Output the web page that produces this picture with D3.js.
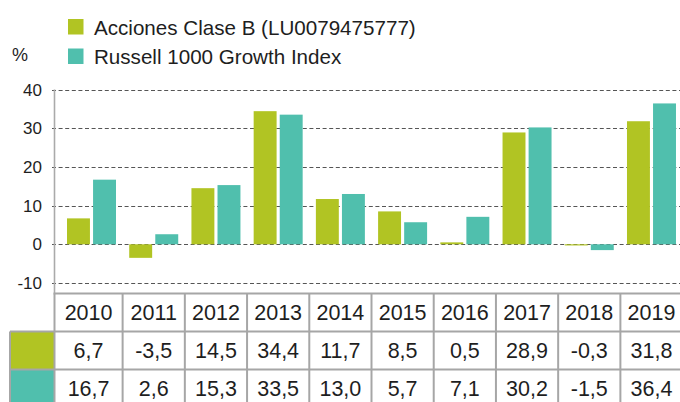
<!DOCTYPE html>
<html><head><meta charset="utf-8">
<script src="https://cdn.jsdelivr.net/npm/d3@7"></script>
<style>
html,body{margin:0;padding:0;background:#fff;}
svg{display:block;font-family:"Liberation Sans",Arial,Helvetica,sans-serif;}
</style></head>
<body><svg id="c" width="680" height="402"></svg>
<script>
const years = ["2010","2011","2012","2013","2014","2015","2016","2017","2018","2019"];
const seriesNames = ["Acciones Clase B (LU0079475777)","Russell 1000 Growth Index"];
const fundValues = [6.7,-3.5,14.5,34.4,11.7,8.5,0.5,28.9,-0.3,31.8];
const indexValues = [16.7,2.6,15.3,33.5,13.0,5.7,7.1,30.2,-1.5,36.4];
const yTicks = [-10,0,10,20,30,40];
const colors = ["#b1c423","#50bfad"];

const svg = d3.select("#c");
const loc = d3.formatLocale({decimal:",",thousands:".",grouping:[3],currency:["",""],minus:"-"});
const fmt1 = loc.format(".1f");
const fmt0 = loc.format("d");

const x = d3.scaleBand().domain(years).range([60.4, 682.6]).paddingInner(0).paddingOuter(0);
const sub = d3.scaleBand().domain([0,1]).range([6.6, 55.6]).paddingInner(0.12);
const y = d3.scaleLinear().domain([-10,40]).range([283, 89.5]);

const axisX = 54.5, gridLeft = 52, tableTop = 293.5, rowH = 38, swatchLeft = 10;

// gridlines
svg.append("g").selectAll("line").data(yTicks).join("line")
  .attr("x1", gridLeft).attr("x2", 680)
  .attr("y1", d => Math.round(y(d)) + 0.5).attr("y2", d => Math.round(y(d)) + 0.5)
  .attr("stroke", "#555").attr("stroke-width", 1).attr("stroke-dasharray", "4,2.6");

// y tick labels
svg.append("g").selectAll("text").data(yTicks).join("text")
  .attr("x", 42).attr("y", d => y(d)).attr("dy", "0.36em")
  .attr("text-anchor", "end").attr("font-size", 17).attr("fill", "#1e1e1e")
  .text(d => fmt0(d));

// y axis line
svg.append("line").attr("x1", axisX).attr("x2", axisX)
  .attr("y1", y(40)).attr("y2", tableTop)
  .attr("stroke", "#aaa").attr("stroke-width", 1.6);

// bars
const series = [fundValues, indexValues];
series.forEach((vals, si) => {
  svg.append("g").selectAll("rect").data(years).join("rect")
    .attr("x", (d) => x(d) + sub(si))
    .attr("width", sub.bandwidth())
    .attr("y", (d, i) => y(Math.max(0, vals[i])))
    .attr("height", (d, i) => Math.abs(y(vals[i]) - y(0)))
    .attr("fill", colors[si]);
});

// legend
const lg = svg.append("g");
seriesNames.forEach((name, i) => {
  lg.append("rect").attr("x", 68).attr("y", 19 + i * 29.5).attr("width", 15.5).attr("height", 15.5).attr("fill", colors[i]);
  lg.append("text").attr("x", 94).attr("y", 34.5 + i * 29.5).attr("font-size", 20.6).attr("fill", "#1e1e1e").text(name);
});
svg.append("text").attr("x", 12).attr("y", 61).attr("font-size", 18).attr("fill", "#1e1e1e").text("%");

// table
const tg = svg.append("g");
const border = "#a6a6a6", bw = 2;
const colLeft = (d, i) => i === 0 ? axisX : x(d);
const colRight = d => x(d) + x.bandwidth();
// swatch cells
colors.forEach((c, i) => {
  tg.append("rect").attr("x", swatchLeft).attr("y", tableTop + rowH * (i + 1))
    .attr("width", axisX - swatchLeft).attr("height", rowH).attr("fill", c);
});
// header text
tg.selectAll("text.h").data(years).join("text").attr("class", "h")
  .attr("x", (d, i) => (colLeft(d, i) + colRight(d)) / 2)
  .attr("y", tableTop + rowH * 0.5).attr("dy", "0.36em")
  .attr("text-anchor", "middle").attr("font-size", 21.5).attr("fill", "#1e1e1e").text(d => d);
series.forEach((vals, si) => {
  tg.selectAll("text.r" + si).data(years).join("text").attr("class", "r" + si)
    .attr("x", (d, i) => (colLeft(d, i) + colRight(d)) / 2)
    .attr("y", tableTop + rowH * (si + 1.5)).attr("dy", "0.36em")
    .attr("text-anchor", "middle").attr("font-size", 21.5).attr("fill", "#1e1e1e")
    .text((d, i) => fmt1(vals[i]));
});
// horizontal borders
[0, 1, 2, 3].forEach(r => {
  tg.append("line").attr("x1", r === 0 ? axisX - 1 : swatchLeft).attr("x2", 690)
    .attr("y1", tableTop + rowH * r).attr("y2", tableTop + rowH * r)
    .attr("stroke", border).attr("stroke-width", bw);
});
// vertical borders
tg.append("line").attr("x1", swatchLeft).attr("x2", swatchLeft)
  .attr("y1", tableTop + rowH).attr("y2", 410).attr("stroke", border).attr("stroke-width", bw);
tg.append("line").attr("x1", axisX).attr("x2", axisX)
  .attr("y1", tableTop).attr("y2", 410).attr("stroke", border).attr("stroke-width", bw);
tg.selectAll("line.v").data(years.slice(1)).join("line").attr("class", "v")
  .attr("x1", d => x(d)).attr("x2", d => x(d))
  .attr("y1", tableTop).attr("y2", 410).attr("stroke", border).attr("stroke-width", bw);
</script></body></html>
